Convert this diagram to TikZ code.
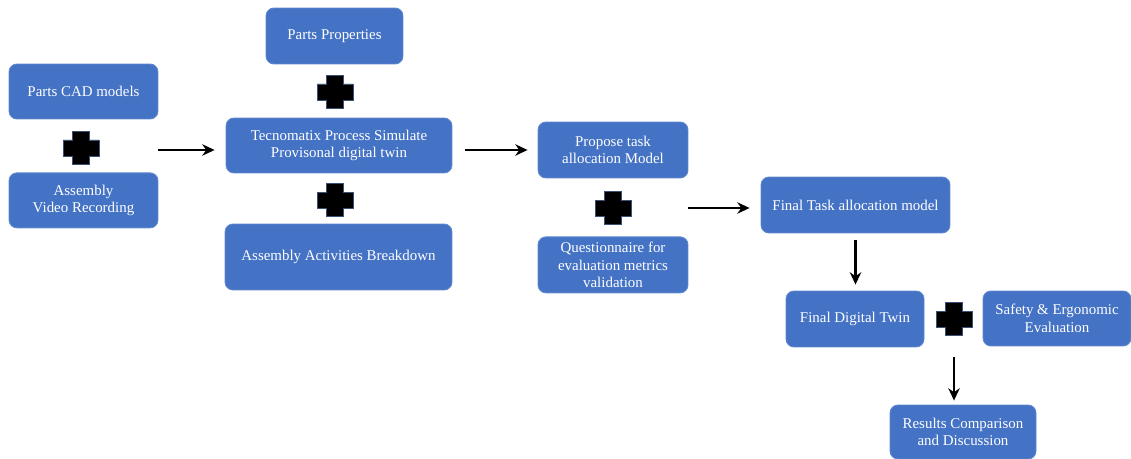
\documentclass[tikz,border=0pt]{standalone}
\usepackage{fontspec}
\setmainfont{Liberation Serif}
\usepackage{tikz}
\usetikzlibrary{arrows.meta, positioning}
\definecolor{cblue}{RGB}{68,114,196}
\definecolor{cedge}{RGB}{96,136,206}
\definecolor{cplus}{RGB}{60,80,120}

\begin{document}
\begin{tikzpicture}[
  x=0.02cm, y=-0.02cm,
  box/.style     = {rectangle, rounded corners=4.5pt, draw=cedge, line width=0.5pt,
                    fill=cblue, text=white, align=center, inner sep=1pt,
                    font=\fontsize{8.5}{10}\selectfont},
  plussign/.style = {rectangle, minimum width=0.76cm, minimum height=0.70cm, inner sep=0pt,
                    path picture={
                      \filldraw[fill=black, draw=cplus, line width=0.45pt]
                        (path picture bounding box.center) ++(-8.5,-16.5)
                        -- ++(17,0) -- ++(0,8.5) -- ++(9.5,0) -- ++(0,16)
                        -- ++(-9.5,0) -- ++(0,8.5) -- ++(-17,0) -- ++(0,-8.5)
                        -- ++(-9.5,0) -- ++(0,-16) -- ++(9.5,0) -- cycle;}},
  arr/.style     = {-{Stealth[length=7pt, width=6.5pt]}, line width=1.4pt, black},
]
\useasboundingbox (0,0) rectangle (1131,459);
% Column 1: inputs
\node[box, minimum width=2.98cm, minimum height=1.10cm] (cad) at (83.5,91.5) {Parts CAD models};
\node[box, minimum width=2.98cm, minimum height=1.10cm, below=1.06cm of cad] (video) {Assembly\\Video Recording};
% Column 2: provisional digital twin
\node[box, minimum width=2.74cm, minimum height=1.12cm] (props) at (334.5,36) {Parts Properties};
\node[box, minimum width=4.52cm, minimum height=1.10cm] (tecno) at (339,145.5) {Tecnomatix Process Simulate\\Provisonal digital twin};
\node[box, minimum width=4.54cm, minimum height=1.32cm] (brkdwn) at (338.5,257) {Assembly Activities Breakdown};
% Column 3: task allocation
\node[box, minimum width=3.00cm, minimum height=1.12cm] (propose) at (613,150) {Propose task\\allocation Model};
\node[box, minimum width=3.00cm, minimum height=1.12cm, below=1.16cm of propose] (quest) {Questionnaire for\\evaluation metrics\\validation};
% Column 4: final models
\node[box, minimum width=3.78cm, minimum height=1.12cm] (ftask) at (855.5,205) {Final Task allocation model};
\node[box, minimum width=2.76cm, minimum height=1.12cm] (fdt) at (855,319) {Final Digital Twin};
\node[box, minimum width=2.96cm, minimum height=1.10cm] (safety) at (1057,318.5) {Safety \& Ergonomic\\Evaluation};
\node[box, minimum width=2.92cm, minimum height=1.08cm] (results) at (963,432) {Results Comparison\\and Discussion};
% Plus signs
\node[plussign] (plusA) at (81,148) {};
\node[plussign] (plusB) at (335,92) {};
\node[plussign] (plusC) at (335,200) {};
\node[plussign] (plusD) at (613,208) {};
\node[plussign] (plusE) at (954,319) {};
% Arrows
\draw[arr, shorten >=0.22cm] ([yshift=-0.04cm]plusA -| video.east) -- ([yshift=-0.04cm]plusA -| tecno.west);
\draw[arr, shorten <=0.26cm, shorten >=0.2cm] (tecno.east |- propose.west) -- (propose.west);
\draw[arr, shorten >=0.22cm] (plusD -| propose.east) -- (plusD -| ftask.west);
\draw[arr, shorten <=0.14cm, shorten >=0.12cm] (ftask.south) -- (ftask.south |- fdt.north);
\draw[arr, shorten <=0.2cm, shorten >=0.08cm] (plusE |- fdt.south) -- (plusE |- results.north);
\end{tikzpicture}
\end{document}
